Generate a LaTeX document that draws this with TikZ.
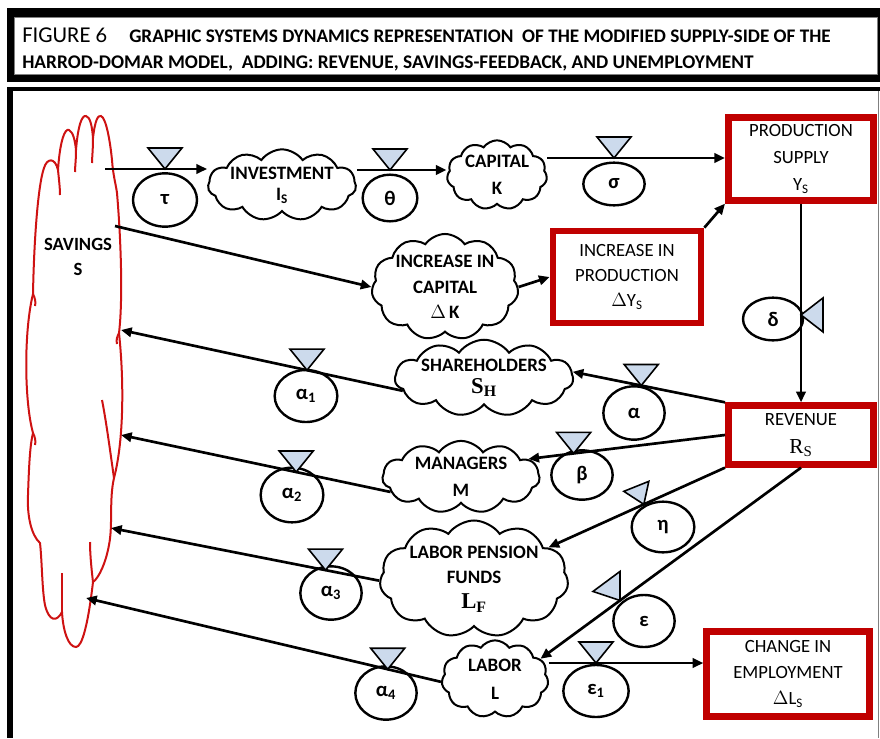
\documentclass[tikz,border=0pt]{standalone}
\usepackage{fontspec}
\setmainfont{Carlito}
\newfontfamily\timesf{Liberation Serif}
\usetikzlibrary{shapes.geometric,shapes.symbols,arrows.meta,calc}

\definecolor{boxred}{RGB}{192,0,0}
\definecolor{savred}{RGB}{206,18,18}
\definecolor{valveblue}{RGB}{204,218,236}

\tikzset{
  flow/.style={line width=2pt, -{Triangle[length=8pt,width=7pt]}},
  cloudnode/.style={cloud, cloud puffs=11, cloud puff arc=110, cloud ignores aspect,
    draw, line width=1.5pt, fill=white, align=center, inner sep=0pt,
    font=\bfseries\fontsize{14.2}{19}\selectfont},
  stockbox/.style={draw=boxred, line width=5pt, fill=white, align=center, inner sep=0pt,
    font=\fontsize{14}{20}\selectfont},
  rate/.style={ellipse, draw, line width=1.8pt, fill=white, inner sep=0pt,
    font=\bfseries\fontsize{15.5}{17}\selectfont},
  valve/.style={draw, line width=1.2pt, fill=valveblue, line join=miter},
  savline/.style={draw=savred, line width=1.5pt},
  valvedn/.pic={\draw[valve] (0,0) -- (-17,-21) -- (17,-21) -- cycle;},
}

\begin{document}
\begin{tikzpicture}[x=0.75pt,y=-0.75pt]
\useasboundingbox (0,0) rectangle (880,738);

% title frame
\fill[black] (7,8) rectangle (880,82);
\filldraw[fill=white, draw=gray, line width=0.5pt] (14,17) rectangle (877,74);
\node[anchor=base west, inner sep=0pt, font=\fontsize{17}{17}\selectfont] (fig) at (22,43)
  {FIGURE {\addfontfeatures{Numbers=OldStyle}6}};
\node[anchor=base west, inner sep=0pt, font=\bfseries\fontsize{14.4}{15}\selectfont] (t1) at (129,43)
  {GRAPHIC SYSTEMS DYNAMICS REPRESENTATION\ \ OF THE MODIFIED SUPPLY-SIDE OF THE};
\node[anchor=base west, inner sep=0pt, font=\bfseries\fontsize{14.5}{15}\selectfont] (t2) at (22,69)
  {HARROD-DOMAR MODEL,\ \ ADDING: REVENUE, SAVINGS-FEEDBACK, AND UNEMPLOYMENT};

% diagram frame
\fill[black] (7,87) rectangle (880,91);
\fill[black] (7,87) rectangle (13,738);
\draw[gray, line width=0.6pt] (878,91) -- (878,738);

% savings cloud
\draw[savline] (33,294)
  .. controls (34,240) and (38,185) .. (44,168)
  .. controls (47,158) and (55,157) .. (58,170)
  .. controls (60,140) and (65,128) .. (69,130)
  .. controls (73,132) and (75,140) .. (76,150)
  .. controls (78,125) and (82,115) .. (86,116)
  .. controls (90,117) and (92,125) .. (93,138)
  .. controls (95,120) and (98,115) .. (101,116)
  .. controls (106,118) and (110,140) .. (112,160)
  .. controls (113,175) and (116,185) .. (117,193)
  .. controls (121,240) and (123,300) .. (119,333)
  .. controls (124,380) and (124,440) .. (114,478)
  .. controls (109,500) and (113,525) .. (109,545)
  .. controls (106,562) and (99,578) .. (93,582)
  .. controls (88,625) and (82,647) .. (76,647)
  .. controls (68,647) and (63,630) .. (62,612)
  .. controls (57,622) and (49,622) .. (45,605)
  .. controls (42,590) and (42,560) .. (40,543)
  .. controls (31,535) and (27,515) .. (28,495)
  .. controls (29,465) and (30,445) .. (33,433)
  .. controls (24,400) and (24,330) .. (33,294) -- cycle;
\draw[savline] (58,170) .. controls (59,180) and (60,188) .. (60,195);
\draw[savline] (76,150) .. controls (76,160) and (75,167) .. (75,172);
\draw[savline] (93,138) .. controls (93,150) and (92,158) .. (92,163);
\draw[savline] (114,478) .. controls (110,450) and (106,420) .. (102,400);
\draw[savline] (93,582) .. controls (91,565) and (90,552) .. (90,542);
\draw[savline] (62,612) .. controls (62,595) and (62,585) .. (62,573);
\draw[savline] (33,294) .. controls (35,298) and (36,302) .. (35,306);
\draw[savline] (33,433) .. controls (35,437) and (36,441) .. (35,445);
\draw[savline] (119,333) .. controls (117,337) and (116,340) .. (117,344);
\node[font=\bfseries\fontsize{14}{19}\selectfont, align=center, inner sep=0pt] (sav) at (78,257) {SAVINGS\\S};

% free ends of the connectors on the savings cloud
\coordinate (savT) at (105,169);
\coordinate (savD) at (115,226);
\coordinate (savA1) at (121,330);
\coordinate (savA2) at (121,435);
\coordinate (savA3) at (111,528);
\coordinate (savA4) at (86,598);

% stocks and levels
\node[cloudnode, minimum width=98pt, minimum height=48pt, font=\bfseries\fontsize{14.2}{16}\selectfont] (inv) at (282,185) {INVESTMENT\\I\textsubscript{S}};
\node[cloudnode, minimum width=75pt, minimum height=52pt, font=\bfseries\fontsize{14.2}{20}\selectfont] (cap) at (497,175) {CAPITAL\\K};
\node[cloudnode, minimum width=108pt, minimum height=65pt] (dk) at (445,287) {INCREASE IN\\CAPITAL\\$\Delta$\,K};
\node[cloudnode, minimum width=127pt, minimum height=50pt, font=\bfseries\fontsize{14.2}{16}\selectfont] (sh) at (484,378) {SHAREHOLDERS\\{\timesf\fontsize{17}{17}\selectfont S\textsubscript{H}}};
\node[cloudnode, minimum width=118pt, minimum height=50pt, font=\bfseries\fontsize{14.2}{20}\selectfont] (mg) at (461,477) {MANAGERS\\M};
\node[cloudnode, minimum width=133pt, minimum height=80pt] (lpf) at (474,579) {LABOR PENSION\\FUNDS\\{\timesf\fontsize{17}{17}\selectfont L\textsubscript{F}}};
\node[cloudnode, minimum width=80pt, minimum height=58pt, font=\bfseries\fontsize{14.2}{21}\selectfont] (lab) at (495,679) {LABOR\\L};

\node[stockbox, minimum width=109pt, minimum height=62pt] (ps) at (801,159) {PRODUCTION\\SUPPLY\\Y\textsubscript{S}};
\node[stockbox, minimum width=111pt, minimum height=69pt, font=\fontsize{14}{19}\selectfont] (ip) at (627,277) {INCREASE IN\\PRODUCTION\\$\Delta$Y\textsubscript{S}};
\node[stockbox, minimum width=109pt, minimum height=44pt, font=\fontsize{14}{21}\selectfont] (rev) at (801,435) {REVENUE\\{\timesf\fontsize{16}{16}\selectfont R\textsubscript{S}}};
\node[stockbox, minimum width=122pt, minimum height=64pt, font=\fontsize{14}{19.5}\selectfont] (ce) at (788,674) {CHANGE IN\\EMPLOYMENT\\$\Delta$L\textsubscript{S}};

% valve positions on the horizontal flows
\coordinate (tauv) at (165,169);
\coordinate (thetav) at (390,170);
\coordinate (sigv) at (614,158);
\coordinate (e1v) at (596,663);

% rates
\node[rate, minimum width=48pt, minimum height=40pt] (tau) at (165,200) {τ};
\node[rate, minimum width=41pt, minimum height=35pt] (theta) at (390,198) {θ};
\node[rate, minimum width=46pt, minimum height=32pt] (sigma) at (614,184) {σ};
\node[rate, minimum width=45pt, minimum height=32pt] (delta) at (773,319) {δ};
\node[rate, minimum width=46pt, minimum height=40pt] (alpha) at (634,413) {α};
\node[rate, minimum width=46pt, minimum height=37pt] (beta) at (582,475) {β};
\node[rate, minimum width=47pt, minimum height=39pt] (a1) at (306,396) {α\textsubscript{1}};
\node[rate, minimum width=47pt, minimum height=41pt] (a2) at (292,495) {α\textsubscript{2}};
\node[rate, minimum width=47pt, minimum height=38pt] (eta) at (663,527) {η};
\node[rate, minimum width=46pt, minimum height=39pt] (eps) at (644,621) {ε};
\node[rate, minimum width=46pt, minimum height=40pt] (a3) at (331,593) {α\textsubscript{3}};
\node[rate, minimum width=46pt, minimum height=40pt] (a4) at (386,693) {α\textsubscript{4}};
\node[rate, minimum width=49pt, minimum height=39pt] (e1) at (596,691) {ε\textsubscript{1}};

% flows
\draw[flow] (savT) -- (inv.west |- tauv);
\draw[flow] (inv.east |- thetav) -- (cap.west |- thetav);
\draw[flow] (cap.east |- sigv) -- (ps.west |- sigv);
\draw[flow] (savD) -- (dk.west);
\draw[flow] (dk.east) -- (ip.west);
\draw[flow] (ip.north east) -- (ps.south west);
\draw[flow] (ps.south) -- coordinate[pos=0.56] (deltav) (rev.north);
\draw[flow] (rev.north west) -- coordinate[pos=0.55] (alv) (sh.4);
\draw[flow] (rev.west) -- coordinate[pos=0.77] (bev) (mg.15);
\draw[flow] (rev.south west) -- coordinate[pos=0.46] (etav) (lpf.23);
\draw[flow] (rev.south) -- coordinate[pos=0.695] (epsv) (lab.24);
\draw[flow] (lab.east |- e1v) -- (ce.west |- e1v);
\draw[flow] (sh.189) -- coordinate[pos=0.34] (a1v) (savA1);
\draw[flow] (mg.192) -- coordinate[pos=0.35] (a2v) (savA2);
\draw[flow] (lpf.181) -- coordinate[pos=0.2] (a3v) (savA3);
\draw[flow] (lab.183) -- coordinate[pos=0.15] (a4v) (savA4);

% valves
\pic at (tauv) {valvedn};
\pic at (thetav) {valvedn};
\pic at (sigv) {valvedn};
\pic at (e1v) {valvedn};
\pic at (alv) {valvedn};
\pic at (bev) {valvedn};
\pic at (a1v) {valvedn};
\pic at (a2v) {valvedn};
\pic at (a3v) {valvedn};
\pic at (a4v) {valvedn};
\draw[valve] (deltav) -- ++(22,-17) -- ++(0,34) -- cycle;
\draw[valve] (etav) -- ++(-20,-13) -- ++(25,-10) -- cycle;
\draw[valve] (epsv) -- ++(-27,-9) -- ++(27,-20) -- cycle;
\end{tikzpicture}
\end{document}
